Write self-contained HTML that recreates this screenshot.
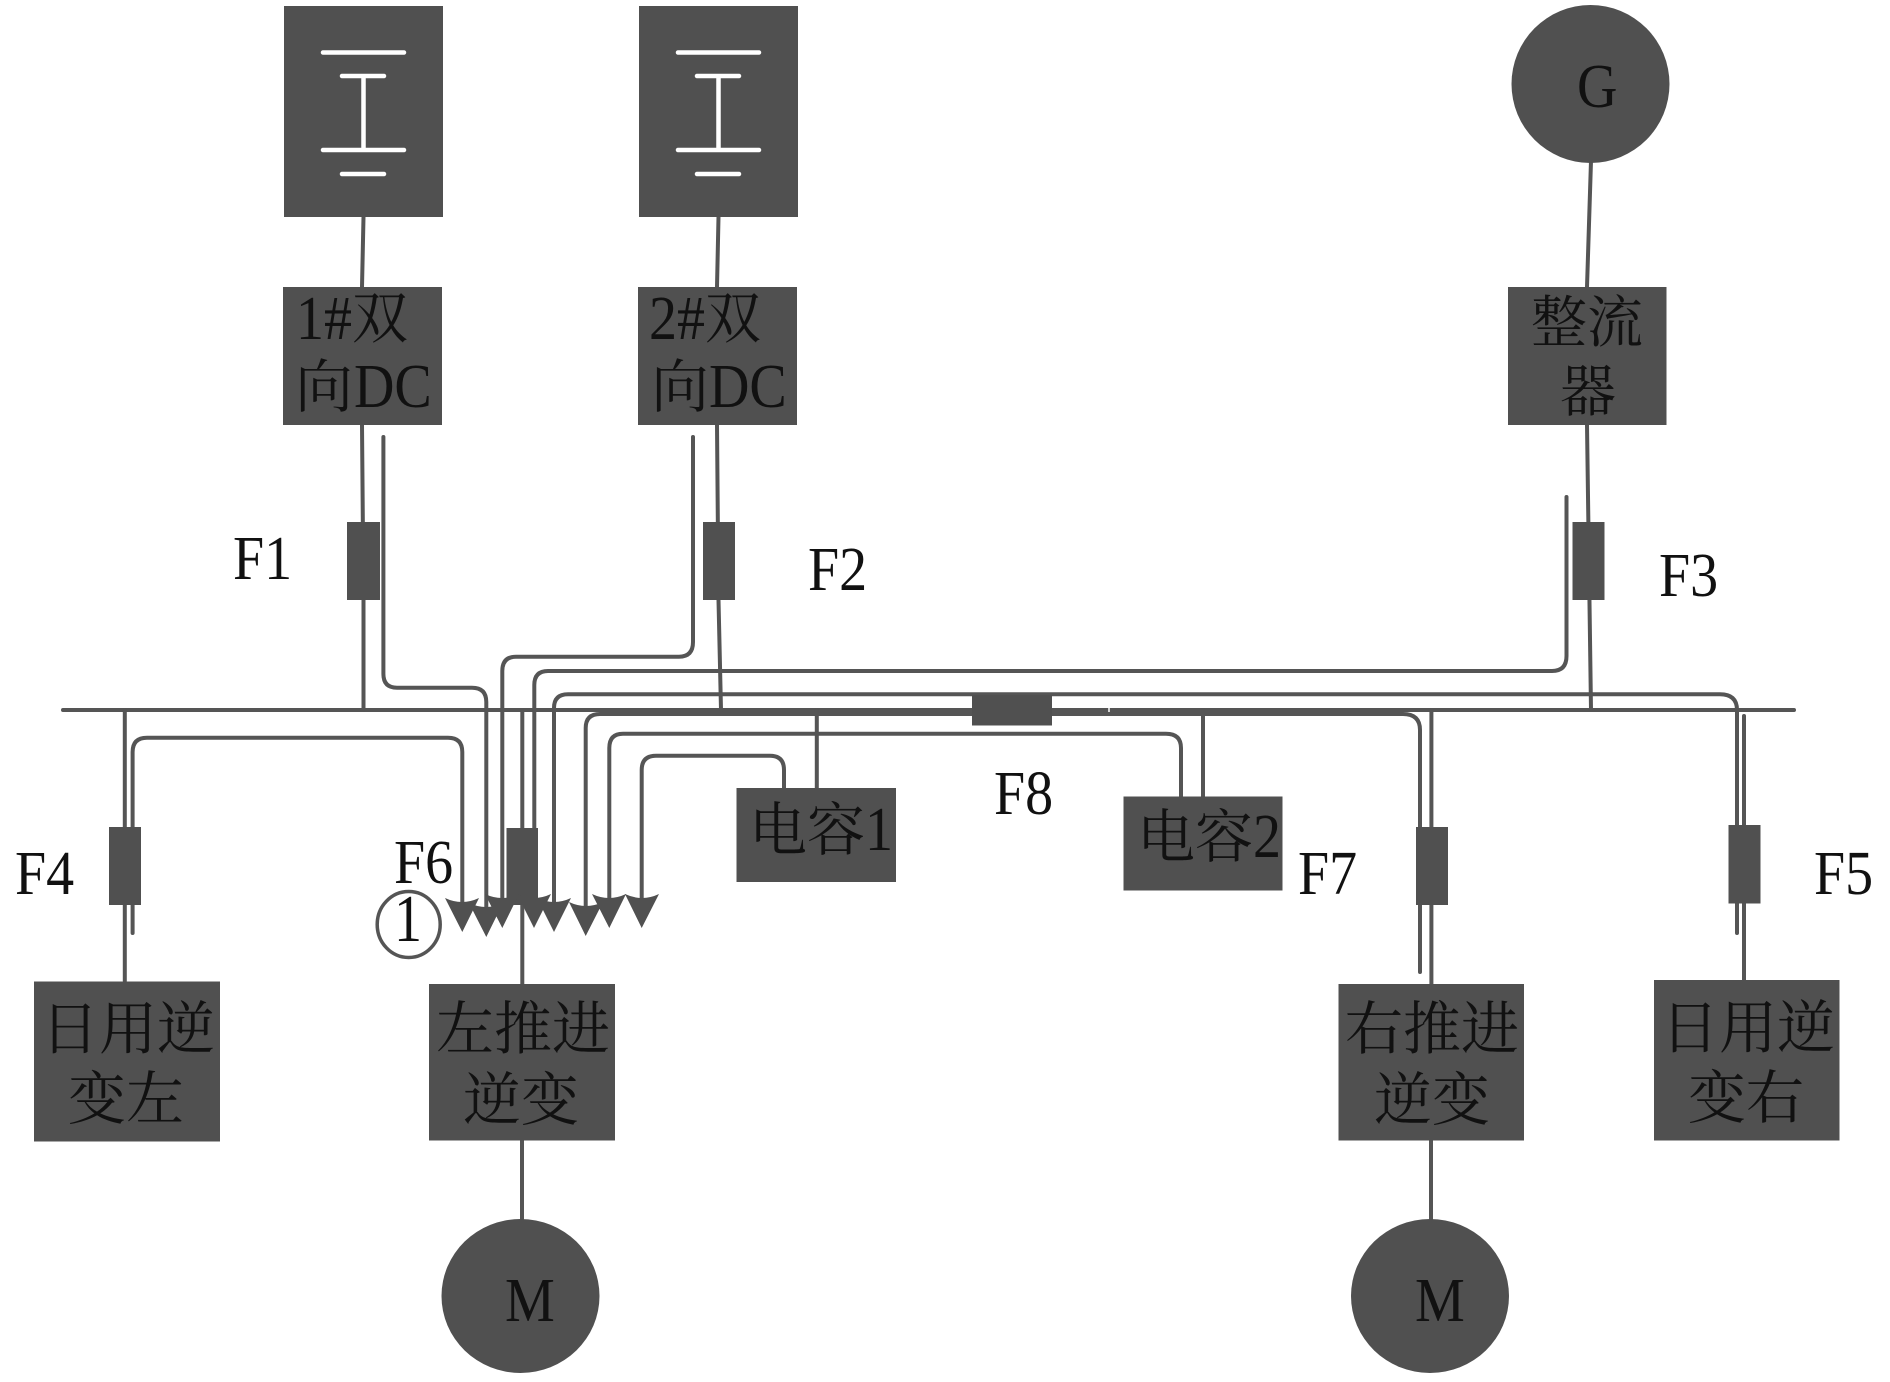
<!DOCTYPE html>
<html><head><meta charset="utf-8"><style>
html,body{margin:0;padding:0;background:#fff;width:1890px;height:1382px;overflow:hidden}
svg{display:block}
text{font-family:"Liberation Serif","Noto Serif CJK SC",serif;font-size:56px;fill:#111}
.c{font-size:58px}
.l{fill:none;stroke:#555;stroke-width:4;stroke-linecap:round}
.w{fill:none;stroke:#fff;stroke-width:4.500;stroke-linecap:round}
.b{fill:#505050}
</style></head><body>
<svg width="1890" height="1382" viewBox="0 0 1890 1382" xmlns="http://www.w3.org/2000/svg">
<g class="l">
<path d="M63 710H1794"/>
<path d="M363.500 217L362 287M362 425L363.500 600V710"/>
<path d="M718.500 217L717 287M717 425L718.500 600L721 710"/>
<path d="M1591 161L1587 287M1587 425L1591 710"/>
<path d="M124.800 710V981"/>
<path d="M522.300 710V984M522 1140V1219"/>
<path d="M816.800 710V788"/>
<path d="M1203 710V797"/>
<path d="M1431.400 710V984M1431 1140V1219"/>
<path d="M1744 716V980"/>
<path d="M383.400 437V674Q383.400 687.700 397 687.700H472Q486.300 687.700 486.300 702V910"/>
<path d="M693 437V642Q693 656.700 679 656.700H516Q502.300 656.700 502.300 671V905"/>
<path d="M1566.500 497V656Q1566.500 671 1552 671H548Q534.300 671 534.300 685V905"/>
<path d="M1737 933V710Q1737 694.300 1720 694.300H568Q554 694.300 554 708V905"/>
<path d="M1420 972V730Q1420 714 1403 714H600Q585.700 714 585.700 728V908"/>
<path d="M1181 797V748Q1181 733.700 1166 733.700H623Q609.300 733.700 609.300 748V900"/>
<path d="M784 788V770Q784 755.700 770 755.700H656Q641.700 755.700 641.700 770V900"/>
<path d="M132.600 933V752Q132.600 737.700 147 737.700H448Q462.300 737.700 462.300 752V905"/>
</g>
<g class="b">
<rect x="284" y="6" width="159" height="211"/>
<rect x="639" y="6" width="159" height="211"/>
<rect x="283" y="287" width="159" height="138"/>
<rect x="638" y="287" width="159" height="138"/>
<rect x="1508" y="287" width="158.500" height="138"/>
<circle cx="1590.500" cy="84" r="79"/>
<rect x="347" y="522" width="33" height="78"/>
<rect x="703" y="522" width="32" height="78"/>
<rect x="1572.500" y="522" width="32" height="78"/>
<rect x="109" y="827" width="32" height="78"/>
<rect x="506.500" y="828" width="31.500" height="77"/>
<rect x="1416" y="827" width="32" height="78"/>
<rect x="1728.500" y="825" width="32" height="78.500"/>
<rect x="972" y="695" width="80" height="30.500"/>
<rect x="736.500" y="788" width="159.500" height="94"/>
<rect x="1123.500" y="796.500" width="159" height="94"/>
<rect x="34" y="981.500" width="186" height="160"/>
<rect x="429" y="984" width="186" height="156.500"/>
<rect x="1338.500" y="984" width="185.500" height="156.500"/>
<rect x="1654" y="980" width="185.500" height="160.500"/>
<ellipse cx="520.500" cy="1296" rx="79" ry="77"/>
<ellipse cx="1430" cy="1296" rx="79" ry="77"/>
<path d="M445 898Q462 906 479 898L462.300 932Z"/>
<path d="M469 903Q486 911 503 903L486.300 937Z"/>
<path d="M485 894Q502 902 519 894L502.300 928Z"/>
<path d="M517 894Q534 902 551 894L534 928Z"/>
<path d="M537 898Q554 906 571 898L554 932Z"/>
<path d="M569 902Q586 910 603 902L585.700 936Z"/>
<path d="M592 894Q609 902 626 894L609.300 928Z"/>
<path d="M625 894Q642 902 659 894L641.700 928Z"/>
</g>
<g class="w">
<path d="M323 52.500H404M342 76H384M363.500 76V150M323 150H404M342 174H384"/>
<path d="M678 52.500H759M697 76H739M718.500 76V150M678 150H759M697 174H739"/>
</g>
<path d="M1109 708V712" stroke="#fff" stroke-width="1.500"/>
<ellipse cx="408.700" cy="924.500" rx="31.500" ry="33" fill="#fff" stroke="#555" stroke-width="3.500"/>
<text transform="translate(296 339) scale(1 1.12)">1#</text>
<text x="352" y="338">双</text>
<text class="c" x="295" y="407">向</text>
<text transform="translate(354 407) scale(1 1.12)">DC</text>
<text transform="translate(649 339) scale(1 1.12)">2#</text>
<text x="705" y="338">双</text>
<text class="c" x="651" y="407">向</text>
<text transform="translate(709 407) scale(1 1.12)">DC</text>
<text x="1531" y="342">整流</text>
<text x="1560" y="411">器</text>
<text transform="translate(1577 107) scale(1 1.12)">G</text>
<text transform="translate(233 579) scale(1 1.12)">F1</text>
<text transform="translate(808 590) scale(1 1.12)">F2</text>
<text transform="translate(1659 596) scale(1 1.12)">F3</text>
<text transform="translate(15 894) scale(1 1.12)">F4</text>
<text transform="translate(394 883) scale(1 1.12)">F6</text>
<text transform="translate(394 941) scale(1 1.2)">1</text>
<text class="c" x="749" y="850">电容</text>
<text transform="translate(865 850) scale(1 1.12)">1</text>
<text class="c" x="41" y="1049">日用逆</text>
<text class="c" x="68" y="1119">变左</text>
<text class="c" x="436" y="1049">左推进</text>
<text class="c" x="463" y="1120">逆变</text>
<text transform="translate(505 1321) scale(1 1.12)">M</text>
<text class="c" x="1345" y="1049">右推进</text>
<text class="c" x="1374" y="1120">逆变</text>
<text class="c" x="1661" y="1048">日用逆</text>
<text class="c" x="1688" y="1118">变右</text>
<text transform="translate(1415 1321) scale(1 1.12)">M</text>
<text transform="translate(994 814) scale(1 1.12)">F8</text>
<text class="c" x="1137" y="857">电容</text>
<text transform="translate(1253 857) scale(1 1.12)">2</text>
<text transform="translate(1298 894) scale(1 1.12)">F7</text>
<text transform="translate(1814 894) scale(1 1.12)">F5</text>
</svg>
</body></html>
